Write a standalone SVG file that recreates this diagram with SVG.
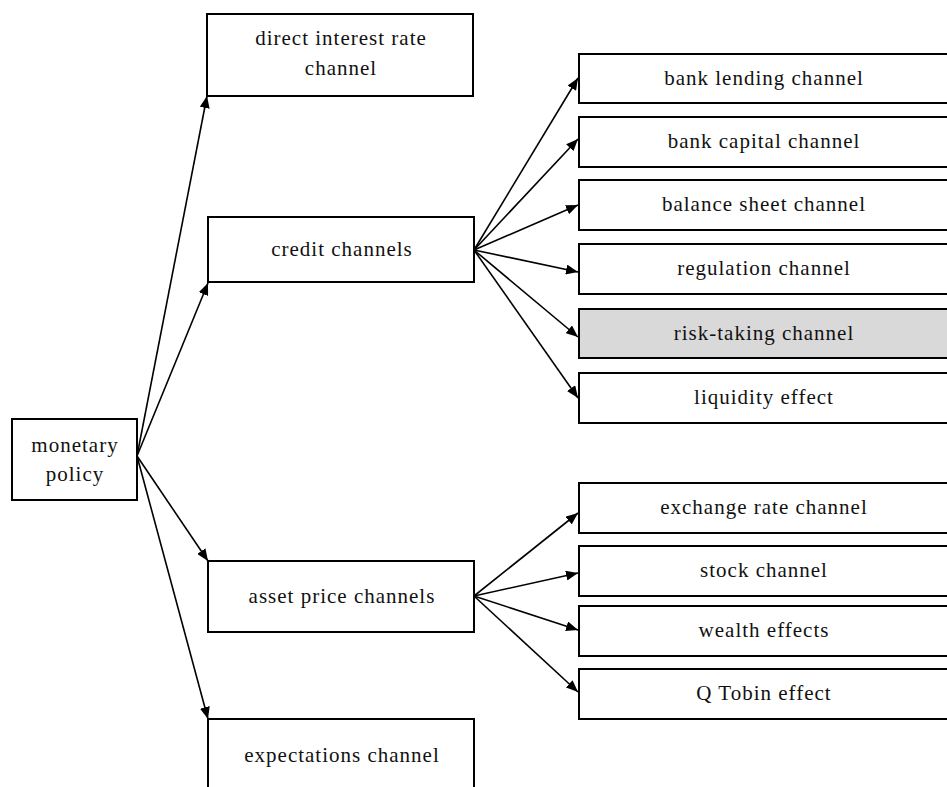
<svg xmlns="http://www.w3.org/2000/svg" width="947" height="787" viewBox="0 0 947 787">
<style>
.box{fill:#fff;stroke:#000;stroke-width:2}
.hl{fill:#d9d9d9}
text{font-family:"Liberation Serif",serif;font-size:21px;letter-spacing:1px;fill:#111;text-anchor:middle}
.c line{stroke:#000;stroke-width:1.6;marker-end:url(#ah)}
</style>
<defs>
<marker id="ah" viewBox="0 0 12 10" refX="12" refY="5" markerWidth="12" markerHeight="10" markerUnits="userSpaceOnUse" orient="auto">
<path d="M0,0 L12,5 L0,10 z" fill="#000"/>
</marker>
</defs>
<rect width="947" height="787" fill="#fff"/>
<g class="c" id="connectors">
<line x1="137" y1="456" x2="207" y2="96"/>
<line x1="137" y1="456" x2="208" y2="283"/>
<line x1="137" y1="456" x2="208" y2="561"/>
<line x1="137" y1="456" x2="208" y2="719"/>
<line x1="474" y1="250" x2="578" y2="78"/>
<line x1="474" y1="250" x2="578" y2="139"/>
<line x1="474" y1="250" x2="578" y2="205"/>
<line x1="474" y1="250" x2="578" y2="272"/>
<line x1="474" y1="250" x2="578" y2="337"/>
<line x1="474" y1="250" x2="578" y2="398"/>
<line x1="474" y1="596" x2="578" y2="513"/>
<line x1="474" y1="596" x2="578" y2="573"/>
<line x1="474" y1="596" x2="578" y2="630"/>
<line x1="474" y1="596" x2="578" y2="692"/>
</g>
<g id="monetary-policy"><rect class="box" x="12" y="419" width="125" height="81"/><text x="75" y="452">monetary</text><text x="75" y="481">policy</text></g>
<g id="direct-interest"><rect class="box" x="207" y="14" width="266" height="82"/><text x="341" y="45">direct interest rate</text><text x="341" y="75">channel</text></g>
<g id="credit-channels"><rect class="box" x="208" y="217" width="266" height="65"/><text x="342" y="256">credit channels</text></g>
<g id="asset-price-channels"><rect class="box" x="208" y="561" width="266" height="71"/><text x="342" y="603">asset price channels</text></g>
<g id="expectations-channel"><rect class="box" x="208" y="719" width="266" height="80"/><text x="342" y="762">expectations channel</text></g>
<g id="bank-lending"><rect class="box" x="579" y="54" width="380" height="49"/><text x="764" y="85">bank lending channel</text></g>
<g id="bank-capital"><rect class="box" x="579" y="117" width="380" height="50"/><text x="764" y="148">bank capital channel</text></g>
<g id="balance-sheet"><rect class="box" x="579" y="180" width="380" height="50"/><text x="764" y="211">balance sheet channel</text></g>
<g id="regulation"><rect class="box" x="579" y="244" width="380" height="50"/><text x="764" y="275">regulation channel</text></g>
<g id="risk-taking"><rect class="box hl" x="579" y="309" width="380" height="49"/><text x="764" y="340">risk-taking channel</text></g>
<g id="liquidity"><rect class="box" x="579" y="373" width="380" height="50"/><text x="764" y="404">liquidity effect</text></g>
<g id="exchange-rate"><rect class="box" x="579" y="483" width="380" height="50"/><text x="764" y="514">exchange rate channel</text></g>
<g id="stock"><rect class="box" x="579" y="546" width="380" height="50"/><text x="764" y="577">stock channel</text></g>
<g id="wealth"><rect class="box" x="579" y="606" width="380" height="50"/><text x="764" y="637">wealth effects</text></g>
<g id="q-tobin"><rect class="box" x="579" y="669" width="380" height="50"/><text x="764" y="700">Q Tobin effect</text></g>
</svg>
